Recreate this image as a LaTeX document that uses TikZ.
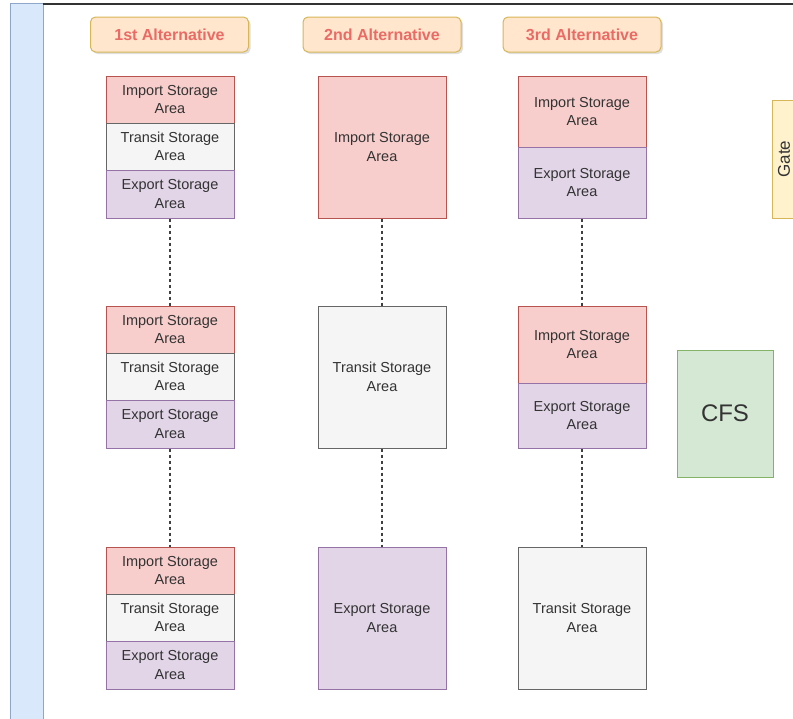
\documentclass[tikz,border=0pt]{standalone}
\usepackage{fontspec}
\setmainfont{Liberation Sans}
\usetikzlibrary{shadows}
\definecolor{impF}{HTML}{F8CECC}
\definecolor{impD}{HTML}{B85450}
\definecolor{traF}{HTML}{F5F5F5}
\definecolor{traD}{HTML}{666666}
\definecolor{expF}{HTML}{E1D5E7}
\definecolor{expD}{HTML}{9673A6}
\definecolor{hdrF}{HTML}{FFE6CC}
\definecolor{hdrD}{HTML}{D6B656}
\definecolor{hdrT}{HTML}{EA6B66}
\definecolor{gateF}{HTML}{FFF2CC}
\definecolor{cfsF}{HTML}{D5E8D4}
\definecolor{cfsD}{HTML}{82B366}
\definecolor{barF}{HTML}{DAE8FC}
\definecolor{barD}{HTML}{8EA6C8}
\definecolor{txt}{HTML}{333333}
\tikzset{
  area/.style={draw, line width=1pt, inner sep=2pt, align=center,
    font=\fontsize{14.5}{18.5}\selectfont, text=txt, minimum width=128pt},
  imp/.style={area, fill=impF, draw=impD},
  tra/.style={area, fill=traF, draw=traD},
  expo/.style={area, fill=expF, draw=expD},
  hdr/.style={draw=hdrD, fill=hdrF, line width=1pt, rounded corners=5pt,
    minimum width=158pt, minimum height=35pt, text=hdrT,
    font=\fontsize{16}{19}\selectfont\bfseries,
    drop shadow={opacity=0.25, shadow xshift=2pt, shadow yshift=-2pt}},
  conn/.style={draw=black!75, line width=1.3pt, dash pattern=on 3pt off 3pt}
}
\begin{document}
\begin{tikzpicture}[x=1pt,y=-1pt]
\useasboundingbox (0,0) rectangle (793,718);
\clip (0,0) rectangle (793,718);
% frame
\draw[fill=barF, draw=barD, line width=1pt] (10,3) rectangle (43,722);
\draw[line width=2pt, black!80] (43,4) -- (795,4);
% headers
\node[hdr] (h1) at (169.5,34.5) {1st Alternative};
\node[hdr] (h2) at (382,34.5) {2nd Alternative};
\node[hdr] (h3) at (582,34.5) {3rd Alternative};
% column 1
\node[imp, minimum height=47pt] (a1i) at (170,99.5) {Import Storage\\Area};
\node[tra, minimum height=47pt] (a1t) at (170,146.5) {Transit Storage\\Area};
\node[expo, minimum height=48pt] (a1e) at (170,194) {Export Storage\\Area};
\node[imp, minimum height=47pt] (a2i) at (170,329.5) {Import Storage\\Area};
\node[tra, minimum height=47pt] (a2t) at (170,376.5) {Transit Storage\\Area};
\node[expo, minimum height=48pt] (a2e) at (170,424) {Export Storage\\Area};
\node[imp, minimum height=47pt] (a3i) at (170,570.5) {Import Storage\\Area};
\node[tra, minimum height=47pt] (a3t) at (170,617.5) {Transit Storage\\Area};
\node[expo, minimum height=48pt] (a3e) at (170,665) {Export Storage\\Area};
% column 2
\node[imp, minimum height=142pt] (b1) at (382,147) {Import Storage\\Area};
\node[tra, minimum height=142pt] (b2) at (382,377) {Transit Storage\\Area};
\node[expo, minimum height=142pt] (b3) at (382,618) {Export Storage\\Area};
% column 3
\node[imp, minimum height=71pt] (c1i) at (582,111.5) {Import Storage\\Area};
\node[expo, minimum height=71pt] (c1e) at (582,182.5) {Export Storage\\Area};
\node[imp, minimum height=77pt] (c2i) at (582,344.5) {Import Storage\\Area};
\node[expo, minimum height=65pt] (c2e) at (582,415.5) {Export Storage\\Area};
\node[tra, minimum height=142pt] (c3) at (582,618) {Transit Storage\\Area};
% connectors
\draw[conn] (a1e) -- (a2i);
\draw[conn] (a2e) -- (a3i);
\draw[conn] (b1) -- (b2);
\draw[conn] (b2) -- (b3);
\draw[conn] (c1e) -- (c2i);
\draw[conn] (c2e) -- (c3);
% CFS and Gate
\node[draw=cfsD, fill=cfsF, line width=1pt, minimum width=96pt, minimum height=127pt,
  font=\fontsize{24}{28}\selectfont, text=txt] (cfs) at (725,413.5) {CFS};
\node[draw=hdrD, fill=gateF, line width=1pt, minimum width=30pt, minimum height=118pt] (gate) at (787,159) {};
\node[rotate=90, font=\fontsize{17}{20}\selectfont, text=txt] (gatet) at (784,159) {Gate};
\end{tikzpicture}
\end{document}
